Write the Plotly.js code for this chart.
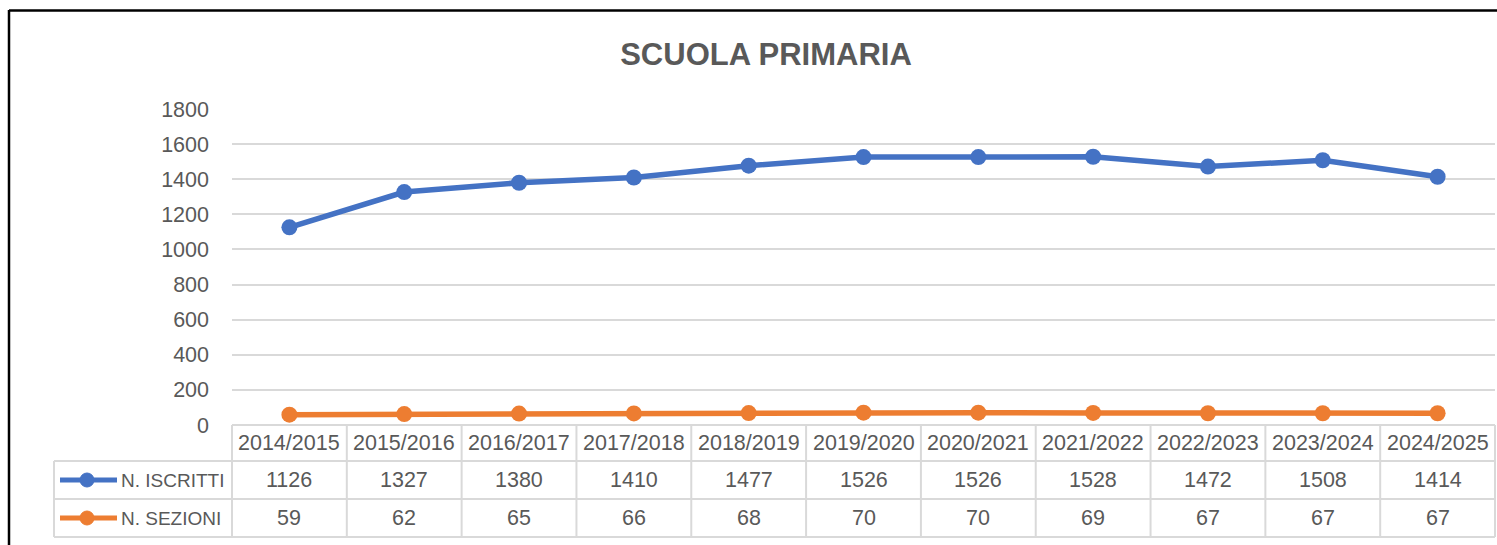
<!DOCTYPE html>
<html>
<head>
<meta charset="utf-8">
<script src="https://cdn.plot.ly/plotly-3.0.1.min.js"></script>
<style>html,body{margin:0;padding:0;background:#fff;}#chart{width:1497px;height:545px;}</style>
</head>
<body>
<div id="chart"></div>
<script>
// ---- data ----
const chartTitle = "SCUOLA PRIMARIA";
const years = ["2014/2015","2015/2016","2016/2017","2017/2018","2018/2019","2019/2020","2020/2021","2021/2022","2022/2023","2023/2024","2024/2025"];
const seriesNames = ["N. ISCRITTI","N. SEZIONI"];
const iscritti = [1126,1327,1380,1410,1477,1526,1526,1528,1472,1508,1414];
const sezioni = [59,62,65,66,68,70,70,69,67,67,67];
const yTicks = [0,200,400,600,800,1000,1200,1400,1600,1800];

// ---- layout helpers (pixel -> paper) ----
const W = 1497, H = 545;
const L = 232, R = 1495, T = 109, B = 425;
const px = v => (v - L) / (R - L);
const py = v => (B - v) / (B - T);
const FONT = '"Liberation Sans", Arial, sans-serif';
const TXT = '#595959';
const GRID = '#d9d9d9';
const colors = ['#4472C4', '#ED7D31'];
const seriesValues = [iscritti, sezioni];

const traces = seriesValues.map((vals, k) => ({
  type: 'scatter', mode: 'lines+markers',
  x: years, y: vals, name: seriesNames[k],
  line: {color: colors[k], width: 5.5},
  marker: {color: colors[k], size: 16},
  cliponaxis: false, showlegend: false, hoverinfo: 'x+y'
}));

// table geometry (pixels)
const rowTop = [425, 461, 499, 537];
const legendLeft = 54;
const shapes = [];
const lineStyle = {color: GRID, width: 2};
// horizontal table lines
for (let r = 1; r < rowTop.length; r++) {
  shapes.push({type:'line', xref:'paper', yref:'paper', x0: px(legendLeft), x1: px(R), y0: py(rowTop[r]), y1: py(rowTop[r]), line: lineStyle});
}
// vertical lines between categories
for (let i = 1; i < years.length; i++) {
  shapes.push({type:'line', xref:'x', yref:'paper', x0: i - 0.5, x1: i - 0.5, y0: py(rowTop[0]), y1: py(rowTop[3]), line: lineStyle});
}
// outer verticals
shapes.push({type:'line', xref:'paper', yref:'paper', x0: 0, x1: 0, y0: py(rowTop[0]), y1: py(rowTop[3]), line: lineStyle});
shapes.push({type:'line', xref:'paper', yref:'paper', x0: 1, x1: 1, y0: py(rowTop[0]), y1: py(rowTop[3]), line: lineStyle});
shapes.push({type:'line', xref:'paper', yref:'paper', x0: px(legendLeft), x1: px(legendLeft), y0: py(rowTop[1]), y1: py(rowTop[3]), line: lineStyle});
// legend keys in table
const rowCenters = [443, 480, 518];
seriesNames.forEach((n, k) => {
  const yc = rowCenters[k + 1];
  shapes.push({type:'line', xref:'paper', yref:'paper', x0: px(60), x1: px(117), y0: py(yc), y1: py(yc), line: {color: colors[k], width: 5}});
  shapes.push({type:'circle', xref:'paper', yref:'paper', x0: px(80), x1: px(94), y0: py(yc - 7), y1: py(yc + 7), fillcolor: colors[k], line: {color: colors[k], width: 1}});
});
// black chart border (top + left)
shapes.push({type:'line', xref:'paper', yref:'paper', x0: px(9), x1: px(1498), y0: py(10.5), y1: py(10.5), line: {color: '#000', width: 2.5}});
shapes.push({type:'line', xref:'paper', yref:'paper', x0: px(9), x1: px(9), y0: py(10), y1: py(546), line: {color: '#000', width: 2.5}});

const annotations = [];
years.forEach((yr, i) => {
  annotations.push({xref:'x', yref:'paper', x: i, y: py(rowCenters[0]), text: yr, showarrow: false, xanchor:'center', yanchor:'middle', font:{family: FONT, size: 21.5, color: TXT}});
  seriesValues.forEach((vals, k) => {
    annotations.push({xref:'x', yref:'paper', x: i, y: py(rowCenters[k + 1]), text: String(vals[i]), showarrow: false, xanchor:'center', yanchor:'middle', font:{family: FONT, size: 21.5, color: TXT}});
  });
});
seriesNames.forEach((n, k) => {
  annotations.push({xref:'paper', yref:'paper', x: px(119), y: py(rowCenters[k + 1]), text: n, showarrow: false, xanchor:'left', yanchor:'middle', font:{family: FONT, size: 19, color: TXT}});
});

const layout = {
  width: W, height: H,
  margin: {l: L, r: W - R, t: T, b: H - B, pad: 0},
  paper_bgcolor: '#fff', plot_bgcolor: '#fff',
  title: {text: '<b>' + chartTitle + '</b>', x: 766 / W, xanchor: 'center', y: 1 - 54 / H, yanchor: 'middle', font: {family: FONT, size: 31, color: TXT}},
  showlegend: false,
  xaxis: {type: 'category', range: [-0.5, years.length - 0.5], showticklabels: false, showgrid: false, zeroline: false, showline: false, ticks: '', fixedrange: true},
  yaxis: {range: [0, 1800], tickvals: yTicks, ticktext: yTicks.map(String), showgrid: true, gridcolor: GRID, gridwidth: 2, zeroline: true, zerolinecolor: GRID, zerolinewidth: 2, showline: false, ticks: '', ticklabelstandoff: 22, tickfont: {family: FONT, size: 21.5, color: TXT}, fixedrange: true},
  shapes: shapes,
  annotations: annotations,
  font: {family: FONT, color: TXT}
};

Plotly.newPlot('chart', traces, layout, {displayModeBar: false, staticPlot: true});
</script>
</body>
</html>
